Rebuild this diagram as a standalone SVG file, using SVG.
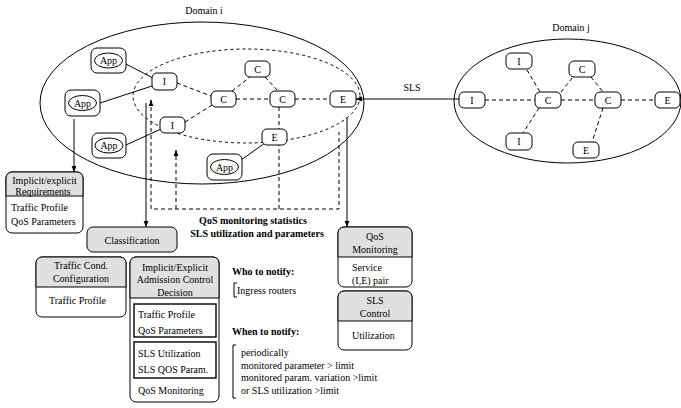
<svg xmlns="http://www.w3.org/2000/svg" width="681" height="408" viewBox="0 0 681 408">
<defs>
<marker id="ah" viewBox="0 0 10 10" refX="10" refY="5" markerWidth="6" markerHeight="6" markerUnits="userSpaceOnUse" orient="auto">
<path d="M0,1 L10,5 L0,9 z" fill="#000"/>
</marker>
</defs>
<style>
text{font-family:"Liberation Serif","Times New Roman",serif;font-size:10px;fill:#000}
.b{font-weight:bold}
.m{text-anchor:middle}
.n{fill:#fff;stroke:#000;stroke-width:1}
.hd{fill:#e0e0e0;stroke:#000;stroke-width:1}
.box{fill:#fff;stroke:#000;stroke-width:1}
.ln{fill:none;stroke:#000;stroke-width:1}
.ds{fill:none;stroke:#000;stroke-width:1;stroke-dasharray:4 3}
.ib{fill:none;stroke:#000;stroke-width:1.4}
</style>
<rect width="681" height="408" fill="#fff"/>

<!-- domains -->
<g id="domain-i">
<ellipse cx="202" cy="103" rx="162" ry="81" class="ln"/>
<ellipse cx="246.5" cy="96" rx="113.5" ry="47" class="ln" stroke-dasharray="3 3"/>
<text x="204" y="14" class="m">Domain i</text>
</g>
<g id="domain-j">
<ellipse cx="567.5" cy="101" rx="113.5" ry="62" class="ln"/>
<text x="571" y="31" class="m">Domain j</text>
</g>

<!-- connectors -->
<g id="connectors">
<line x1="126" y1="64" x2="153" y2="78" class="ln"/>
<line x1="100" y1="103" x2="152" y2="86" class="ln"/>
<line x1="126" y1="145" x2="161" y2="129" class="ln"/>
<line x1="241" y1="160" x2="265" y2="143" class="ln"/>
<line x1="177" y1="83" x2="211" y2="96" class="ds"/>
<line x1="185" y1="122" x2="212" y2="105" class="ds"/>
<line x1="232" y1="91" x2="250" y2="77" class="ds"/>
<line x1="265" y1="77" x2="278" y2="91" class="ds"/>
<line x1="236" y1="99" x2="270" y2="99" class="ds"/>
<line x1="295" y1="99" x2="330" y2="99" class="ds"/>
<!-- domain j -->
<line x1="527" y1="70" x2="540" y2="92" class="ds"/>
<line x1="561" y1="92" x2="573" y2="77" class="ds"/>
<line x1="591" y1="77" x2="603" y2="92" class="ds"/>
<line x1="485" y1="100" x2="535" y2="100" class="ds"/>
<line x1="561" y1="100" x2="595" y2="100" class="ds"/>
<line x1="621" y1="100" x2="655" y2="100" class="ds"/>
<line x1="539" y1="108" x2="523" y2="133" class="ds"/>
<line x1="603" y1="108" x2="592" y2="142" class="ds"/>
<!-- SLS -->
<line x1="459" y1="99" x2="356" y2="99" class="ln" marker-end="url(#ah)"/>
<text x="412" y="91" class="m">SLS</text>
<!-- monitoring paths -->
<line x1="74" y1="119" x2="74" y2="172" class="ln" marker-end="url(#ah)"/>
<line x1="146" y1="103" x2="146" y2="227" class="ln" marker-end="url(#ah)"/>
<line x1="347" y1="117" x2="347" y2="227" class="ln" marker-end="url(#ah)"/>
<polyline points="151,100 151,209 339,209 339,132" class="ds"/>
<line x1="151" y1="106" x2="151" y2="100" class="ln" marker-end="url(#ah)"/>
<line x1="176" y1="209" x2="176" y2="150" class="ds" marker-end="url(#ah)"/>
<line x1="279" y1="107" x2="279" y2="209" class="ds"/>
<text x="253" y="224" class="m b">QoS monitoring statistics</text>
<text x="257" y="237" class="m b">SLS utilization and parameters</text>
</g>

<!-- domain i nodes -->
<g id="app1"><rect x="91" y="48" width="35" height="25" rx="6" class="n"/><ellipse cx="108.5" cy="60.5" rx="14" ry="7.5" class="ln"/><text x="108.5" y="64" class="m">App</text></g>
<g id="app2"><rect x="65" y="90" width="35" height="26" rx="6" class="n"/><ellipse cx="82.5" cy="103" rx="14" ry="7.5" class="ln"/><text x="82.5" y="106.5" class="m">App</text></g>
<g id="app3"><rect x="92" y="133" width="34" height="25" rx="6" class="n"/><ellipse cx="109" cy="145.5" rx="14" ry="7.5" class="ln"/><text x="109" y="149" class="m">App</text></g>
<g id="app4"><rect x="207" y="154" width="35" height="26" rx="6" class="n"/><ellipse cx="224.5" cy="167" rx="14" ry="7.5" class="ln"/><text x="224.5" y="170.5" class="m">App</text></g>
<g id="i1"><rect x="152" y="73" width="25" height="17" rx="5" class="n"/><text x="164.5" y="85" class="m">I</text></g>
<g id="i2"><rect x="160" y="117" width="25" height="16" rx="5" class="n"/><text x="172.5" y="128.5" class="m">I</text></g>
<g id="c1"><rect x="211" y="91" width="25" height="16" rx="5" class="n"/><text x="223.5" y="102.5" class="m">C</text></g>
<g id="c2"><rect x="245" y="61" width="25" height="16" rx="5" class="n"/><text x="257.5" y="72.5" class="m">C</text></g>
<g id="c3"><rect x="270" y="91" width="25" height="16" rx="5" class="n"/><text x="282.5" y="102.5" class="m">C</text></g>
<g id="e1"><rect x="330" y="91" width="26" height="16" rx="5" class="n"/><text x="343" y="102.5" class="m">E</text></g>
<g id="e2"><rect x="262" y="129" width="25" height="16" rx="5" class="n"/><text x="274.5" y="140.5" class="m">E</text></g>

<!-- domain j nodes -->
<g id="j-i1"><rect x="506" y="53" width="26" height="16" rx="5" class="n"/><text x="519" y="64.5" class="m">I</text></g>
<g id="j-c1"><rect x="569" y="61" width="26" height="16" rx="5" class="n"/><text x="582" y="72.5" class="m">C</text></g>
<g id="j-i2"><rect x="459" y="92" width="26" height="16" rx="5" class="n"/><text x="472" y="103.5" class="m">I</text></g>
<g id="j-c2"><rect x="535" y="92" width="26" height="16" rx="5" class="n"/><text x="548" y="103.5" class="m">C</text></g>
<g id="j-c3"><rect x="595" y="92" width="26" height="16" rx="5" class="n"/><text x="608" y="103.5" class="m">C</text></g>
<g id="j-e1"><rect x="655" y="92" width="25" height="16" rx="5" class="n"/><text x="667.5" y="103.5" class="m">E</text></g>
<g id="j-i3"><rect x="506" y="133" width="26" height="17" rx="5" class="n"/><text x="519" y="145" class="m">I</text></g>
<g id="j-e2"><rect x="573" y="142" width="26" height="16" rx="5" class="n"/><text x="586" y="153.5" class="m">E</text></g>

<!-- lower boxes -->
<g id="requirements">
<rect x="6" y="172" width="77" height="61" rx="6" class="box"/>
<path d="M6,196 V178 a6,6 0 0 1 6,-6 H77 a6,6 0 0 1 6,6 V196 z" class="hd"/>
<text x="44.5" y="184" class="m">Implicit/explicit</text>
<text x="43" y="195" class="m">Requirements</text>
<text x="11" y="211">Traffic Profile</text>
<text x="11" y="225">QoS Parameters</text>
</g>
<g id="classification">
<rect x="87" y="227" width="90" height="25" rx="6" class="hd"/>
<text x="132" y="243.5" class="m">Classification</text>
</g>
<g id="traffic-cond">
<rect x="36" y="257" width="90" height="60" rx="6" class="box"/>
<path d="M36,287 V263 a6,6 0 0 1 6,-6 H120 a6,6 0 0 1 6,6 V287 z" class="hd"/>
<text x="81" y="269" class="m">Traffic  Cond.</text>
<text x="81" y="282" class="m">Configuration</text>
<text x="49" y="304">Traffic Profile</text>
</g>
<g id="admission">
<rect x="130" y="257" width="89" height="145" rx="6" class="box"/>
<path d="M130,298 V263 a6,6 0 0 1 6,-6 H213 a6,6 0 0 1 6,6 V298 z" class="hd"/>
<text x="175" y="270.5" class="m">Implicit/Explicit</text>
<text x="175" y="283" class="m">Admission Control</text>
<text x="175" y="295.5" class="m">Decision</text>
<rect x="134" y="304" width="82" height="33" class="ib"/>
<text x="138" y="317.5">Traffic Profile</text>
<text x="138" y="334">QoS Parameters</text>
<rect x="134" y="342" width="82" height="36" class="ib"/>
<text x="138" y="356.5">SLS Utilization</text>
<text x="138" y="373">SLS QOS Param.</text>
<text x="138" y="393.5">QoS Monitoring</text>
</g>
<g id="qos-monitoring">
<rect x="338" y="227" width="74" height="60" rx="6" class="box"/>
<path d="M338,257 V233 a6,6 0 0 1 6,-6 H406 a6,6 0 0 1 6,6 V257 z" class="hd"/>
<text x="375" y="239.5" class="m">QoS</text>
<text x="375" y="252.5" class="m">Monitoring</text>
<text x="352" y="270.5">Service</text>
<text x="352" y="284">(I,E) pair</text>
</g>
<g id="sls-control">
<rect x="338" y="291" width="74" height="59" rx="6" class="box"/>
<path d="M338,321 V297 a6,6 0 0 1 6,-6 H406 a6,6 0 0 1 6,6 V321 z" class="hd"/>
<text x="375" y="303.5" class="m">SLS</text>
<text x="375" y="316.5" class="m">Control</text>
<text x="352" y="338.5">Utilization</text>
</g>

<!-- notify notes -->
<g id="notify">
<text x="232" y="274.5" class="b">Who to notify:</text>
<path d="M237,283 H234 V297 H237" class="ln"/>
<text x="237" y="293.5">Ingress routers</text>
<text x="232" y="334.5" class="b">When to notify:</text>
<path d="M236,345 H233 V398 H236" class="ln"/>
<text x="241" y="356">periodically</text>
<text x="241" y="368.5">monitored parameter &gt; limit</text>
<text x="241" y="381">monitored param. variation &gt;limit</text>
<text x="241" y="394">or SLS utilization &gt;limit</text>
</g>
</svg>
